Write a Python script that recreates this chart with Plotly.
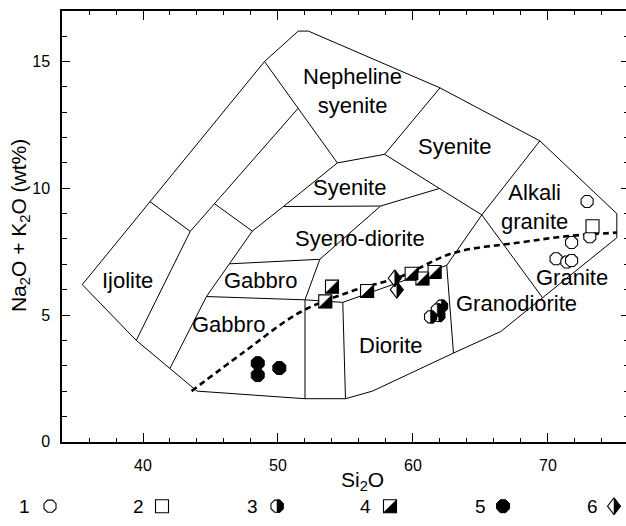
import plotly.graph_objects as go
import numpy as np

# ---------------- field boundaries (SiO2, Na2O+K2O) ----------------
outline_x = [35.5, 39.5, 44.0, 52.0, 55.0, 57.0, 63.0, 66.5, 75.1, 75.1, 69.4, 62.0, 52.25, 51.5, 49.0, 35.5]
outline_y = [6.2, 4.0, 2.0, 1.7, 1.7, 2.0, 3.5, 4.35, 8.05, 9.0, 11.87, 13.96, 16.2, 16.2, 15.0, 6.2]

boundaries = {
    "ijolite_right": ([39.5, 43.5, 51.5], [4.0, 8.3, 13.16]),
    "ijolite_top": ([40.5, 43.5], [9.48, 8.3]),
    "cross_upper": ([45.3, 48.1], [9.39, 8.31]),
    "gabbro_left": ([42.0, 44.7, 46.4, 48.1, 50.4, 54.4], [2.9, 5.73, 7.02, 8.31, 9.28, 11.0]),
    "gabbro_mid": ([44.7, 52.0], [5.73, 5.6]),
    "gabbro_top": ([46.4, 53.1], [7.02, 7.2]),
    "gabbro_right": ([52.0, 53.1, 57.6], [5.6, 7.2, 9.3]),
    "syenite_low": ([50.4, 57.6, 62.0], [9.28, 9.3, 10.0]),
    "neph_left": ([49.0, 51.5, 54.4], [15.0, 13.16, 11.0]),
    "neph_bottom": ([54.4, 57.9], [11.0, 11.34]),
    "neph_right": ([62.0, 57.9], [13.96, 11.34]),
    "syenite_mid_top": ([57.9, 65.1], [11.34, 8.95]),
    "col_left": ([52.0, 52.0], [1.7, 5.6]),
    "col_right": ([55.0, 54.8], [1.7, 5.5]),
    "diorite_top": ([52.0, 54.8, 62.5, 63.0], [5.6, 5.5, 6.96, 3.5]),
    "alkali_left": ([62.5, 65.1, 69.4], [6.96, 8.95, 11.87]),
    "granite_left": ([65.1, 69.6], [8.95, 5.68]),
}

# alkaline / sub-alkaline divide
divide_x = [43.6, 47.5, 51.6, 55.5, 59.0, 63.0, 67.9, 71.6, 75.1]
divide_y = [2.0, 3.55, 5.1, 5.95, 6.5, 7.45, 7.86, 8.12, 8.25]

# ---------------- samples ----------------
s1_x = [72.9, 71.75, 73.1, 70.6, 71.4, 71.75]
s1_y = [9.48, 7.86, 8.09, 7.22, 7.09, 7.15]
s2_x = [73.3]
s2_y = [8.5]
s3_x = [61.3, 61.9, 62.1, 61.8]
s3_y = [4.93, 4.98, 5.35, 5.2]
s4_x = [54.0, 53.5, 56.6, 59.9, 60.7, 61.6]
s4_y = [6.12, 5.54, 5.95, 6.63, 6.44, 6.7]
s5_x = [48.5, 48.5, 50.1]
s5_y = [3.1, 2.63, 2.91]
s6_x = [58.65, 58.8]
s6_y = [6.45, 6.0]

field_labels = ["Nepheline<br>syenite", "Syenite", "Syenite", "Alkali<br>granite", "Syeno-diorite",
                "Ijolite", "Gabbro", "Gabbro", "Granite", "Granodiorite", "Diorite"]
field_x = [55.5, 63.1, 55.3, 69.0, 56.1, 38.85, 48.7, 46.3, 71.75, 67.7, 58.4]
field_y = [13.85, 11.65, 10.05, 9.25, 8.0, 6.38, 6.38, 4.63, 6.5, 5.47, 3.79]

legend_names = ["1", "2", "3", "4", "5", "6"]

# ---------------- geometry ----------------
W, H = 626, 526
X0, X1 = 34.0, 75.78
Y0, Y1 = 0.0, 17.0
PL, PR, PT, PB = 62, 626, 11, 449.5
SX = (PR - PL) / (X1 - X0)   # px per SiO2 unit
SY = (PB - PT) / (Y1 - Y0)   # px per alkali unit

FONT = "Liberation Sans, Arial, sans-serif"

fig = go.Figure()

# boundaries
fig.add_trace(go.Scatter(x=outline_x, y=outline_y, mode="lines",
                         line=dict(color="black", width=1), hoverinfo="skip", showlegend=False))
for bx, by in boundaries.values():
    fig.add_trace(go.Scatter(x=bx, y=by, mode="lines",
                             line=dict(color="black", width=1), hoverinfo="skip", showlegend=False))

fig.add_trace(go.Scatter(x=divide_x, y=divide_y, mode="lines", line_shape="spline",
                         line=dict(color="black", width=2.6, dash="6px,4px"),
                         hoverinfo="skip", showlegend=False))


def poly_trace(xs, ys, shape_px, sx, sy, fill="black", xaxis="x", yaxis="y", lw=0.5):
    """Closed polygons centred on each point; the outline is given in pixel offsets."""
    px, py = [], []
    for x, y in zip(xs, ys):
        for dx, dy in shape_px:
            px.append(x + dx / sx)
            py.append(y + dy / sy)
        px.append(x + shape_px[0][0] / sx)
        py.append(y + shape_px[0][1] / sy)
        px.append(None)
        py.append(None)
    return go.Scatter(x=px, y=py, mode="lines", fill="toself", fillcolor=fill,
                      line=dict(color="black", width=lw), xaxis=xaxis, yaxis=yaxis,
                      hoverinfo="skip", showlegend=False)


R = 6.5
oct_r = R / np.cos(np.pi / 8)
right_half_oct = [(0, -R)] + [(oct_r * np.cos(a), oct_r * np.sin(a))
                              for a in np.radians([-67.5, -22.5, 22.5, 67.5])] + [(0, R)]
lower_right_tri = [(R, R), (R, -R), (-R, -R)]
DH, DW = 8.5, 6.5
diamond = [(0, DH), (DW, 0), (0, -DH), (-DW, 0)]
right_half_diamond = [(0, DH), (DW, 0), (0, -DH)]


def draw_series(fig, sx_, sy_, kind, sxp, syp, xaxis="x", yaxis="y"):
    kw = dict(xaxis=xaxis, yaxis=yaxis, hoverinfo="skip", showlegend=False, cliponaxis=False)
    if kind in (1, 3):
        fig.add_trace(go.Scatter(x=sx_, y=sy_, mode="markers",
                                 marker=dict(symbol="octagon", size=13, color="white",
                                             line=dict(color="black", width=1.1)), **kw))
        if kind == 3:
            fig.add_trace(poly_trace(sx_, sy_, right_half_oct, sxp, syp, "black", xaxis, yaxis))
    elif kind in (2, 4):
        fig.add_trace(go.Scatter(x=sx_, y=sy_, mode="markers",
                                 marker=dict(symbol="square", size=13, color="white",
                                             line=dict(color="black", width=1.1)), **kw))
        if kind == 4:
            fig.add_trace(poly_trace(sx_, sy_, lower_right_tri, sxp, syp, "black", xaxis, yaxis))
    elif kind == 5:
        fig.add_trace(go.Scatter(x=sx_, y=sy_, mode="markers",
                                 marker=dict(symbol="octagon", size=14, color="black",
                                             line=dict(color="black", width=1)), **kw))
    elif kind == 6:
        fig.add_trace(poly_trace(sx_, sy_, diamond, sxp, syp, "white", xaxis, yaxis, lw=1.1))
        fig.add_trace(poly_trace(sx_, sy_, right_half_diamond, sxp, syp, "black", xaxis, yaxis))


series = [(s1_x, s1_y), (s2_x, s2_y), (s3_x, s3_y), (s4_x, s4_y), (s5_x, s5_y), (s6_x, s6_y)]
for k in [5, 3, 4, 6, 1, 2]:
    xs, ys = series[k - 1]
    draw_series(fig, xs, ys, k, SX, SY)

# key row under the plot, drawn on a pixel-unit helper axis
key_num_x = [24, 138, 252, 365, 480, 592]
key_sym_x = [50, 162, 277, 390, 503, 614]
KEY_Y = 515
for i, k in enumerate(range(1, 7)):
    draw_series(fig, [key_sym_x[i]], [H - KEY_Y], k, 1.0, 1.0, xaxis="x2", yaxis="y2")
for name, nx in zip(legend_names, key_num_x):
    fig.add_annotation(x=nx, y=H - KEY_Y, xref="x2", yref="y2", text=name, showarrow=False,
                       xanchor="center", yanchor="middle",
                       font=dict(family=FONT, size=19, color="black"))

# right-hand ticks (spine sits just outside the page)
fig.add_trace(go.Scatter(x=[None], y=[None], yaxis="y3", showlegend=False, hoverinfo="skip"))

# field names
for t, fx, fy in zip(field_labels, field_x, field_y):
    fig.add_annotation(x=fx, y=fy, text=t, showarrow=False, xref="x", yref="y",
                       xanchor="center", yanchor="middle",
                       font=dict(family=FONT, size=22, color="black"))

# axis titles
fig.add_annotation(x=362 / W, y=1 - 489 / H, xref="paper", yref="paper", showarrow=False,
                   xanchor="center", yanchor="middle",
                   text="Si<sub>2</sub>O", font=dict(family=FONT, size=21, color="black"))
fig.add_annotation(x=20 / W, y=1 - 230 / H, xref="paper", yref="paper", showarrow=False,
                   xanchor="center", yanchor="middle",
                   textangle=-90, text="Na<sub>2</sub>O + K<sub>2</sub>O (wt%)",
                   font=dict(family=FONT, size=21, color="black"))

axis_common = dict(showgrid=False, zeroline=False, linecolor="black", linewidth=1.5,
                   ticks="inside", tickcolor="black", tickwidth=1.2,
                   tickfont=dict(family=FONT, size=16, color="black"))

fig.update_layout(
    width=W, height=H, margin=dict(l=0, r=0, t=0, b=0),
    paper_bgcolor="white", plot_bgcolor="white",
    showlegend=False,
    xaxis=dict(domain=[PL / W, 1], range=[X0, X1], anchor="y", tickvals=[40, 50, 60, 70],
               ticklen=9, showline=True, mirror="ticks",
               minor=dict(ticks="inside", ticklen=4, dtick=2, tick0=34, tickcolor="black", tickwidth=1.2),
               ticklabelstandoff=8, **axis_common),
    yaxis=dict(domain=[1 - PB / H, 1 - PT / H], range=[Y0, Y1], anchor="x", tickvals=[0, 5, 10, 15],
               ticklen=8, showline=True,
               minor=dict(ticks="inside", ticklen=5, dtick=1, tickcolor="black", tickwidth=1.2),
               ticklabelstandoff=7, **axis_common),
    yaxis3=dict(overlaying="y", side="right", anchor="x", range=[Y0, Y1], tickvals=[0, 5, 10, 15],
                showticklabels=False, showline=False, showgrid=False, zeroline=False,
                ticks="inside", ticklen=5, tickcolor="black", tickwidth=1.2,
                minor=dict(ticks="inside", ticklen=2, dtick=1, tickcolor="black", tickwidth=1.2)),
    xaxis2=dict(domain=[0, 1], range=[0, W], anchor="y2", visible=False),
    yaxis2=dict(domain=[0, 40 / H], range=[0, 40], anchor="x2", visible=False),
)

fig.write_html("out.html")
